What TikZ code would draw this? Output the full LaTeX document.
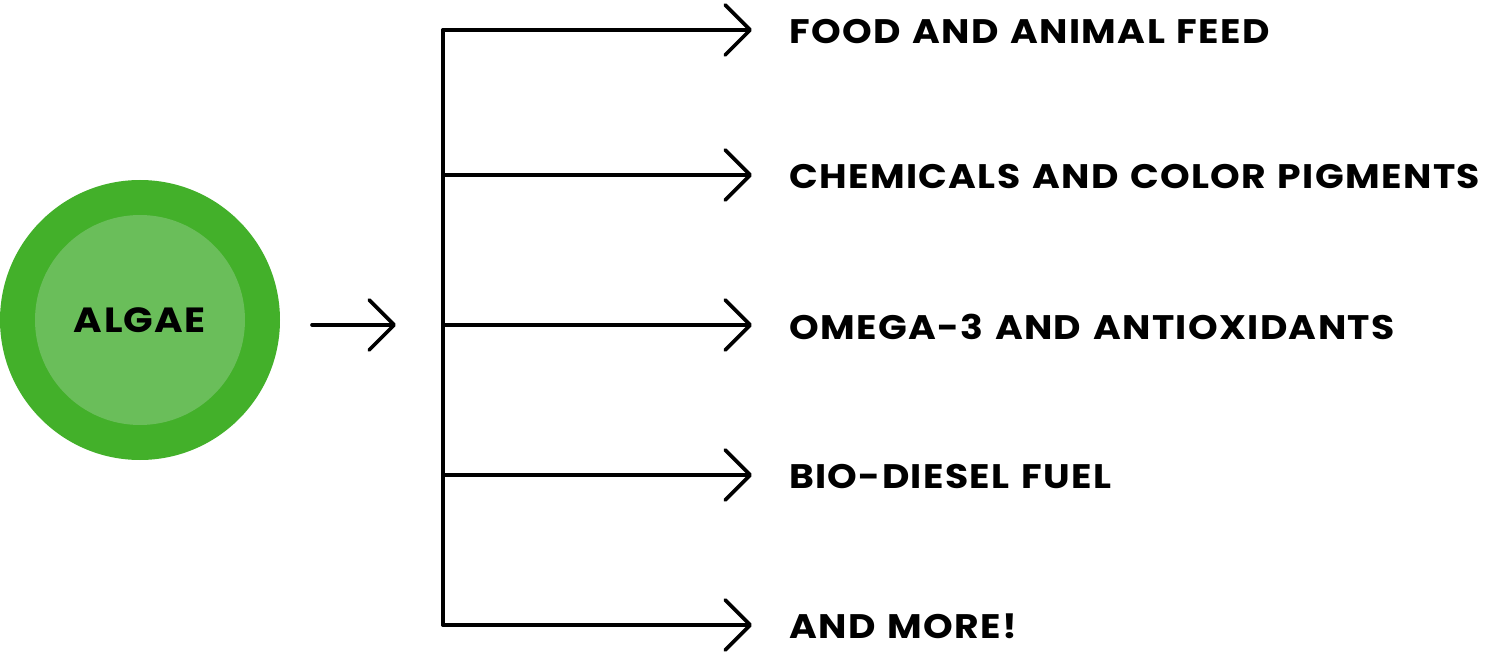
\documentclass[tikz,border=0pt]{standalone}
\usepackage{fontspec}
\setmainfont{Poppins}[UprightFont=* SemiBold, BoldFont=* Bold, FakeStretch=1.11, LetterSpace=4, WordSpace=1.25]
\usetikzlibrary{arrows.meta}
\definecolor{outergreen}{RGB}{67,176,42}
\definecolor{innergreen}{RGB}{106,190,90}
\tikzset{
  conn/.style={line width=3.6pt, line cap=round, line join=round},
  arr/.style={conn, -{Straight Barb[length=25pt, width=50pt, round]}},
  lbl/.style={anchor=west, inner sep=0pt, font=\fontsize{34}{34}\selectfont\bfseries},
}
\begin{document}
\begin{tikzpicture}[x=1pt, y=-1pt]
\useasboundingbox (0,0) rectangle (1500,652);
\node[circle, fill=outergreen, minimum size=280pt, inner sep=0pt] (algae) at (140,320) {};
\node[circle, fill=innergreen, minimum size=210pt, inner sep=0pt, font=\fontsize{35}{35}\selectfont\bfseries] (core) at (140,320) {ALGAE};
\coordinate (in0) at (312,325);
\coordinate (in1) at (396,325);
\draw[arr] (in0) -- (in1);
\coordinate (ttop) at (443,30);
\coordinate (tbot) at (443,625);
\draw[conn] (ttop) -- (tbot);
\foreach \name/\y/\txt in {a/30/FOOD AND ANIMAL FEED, b/175/CHEMICALS AND COLOR PIGMENTS, c/325/OMEGA-3 AND ANTIOXIDANTS, d/475/BIO-DIESEL FUEL, e/625/AND MORE!}{
  \node[lbl] (\name) at (789,\y+1.5) {\txt};
  \coordinate (s\name) at (443,\y);
  \coordinate (t\name) at (752,\y);
  \draw[arr] (s\name) -- (t\name);
}
\end{tikzpicture}
\end{document}
